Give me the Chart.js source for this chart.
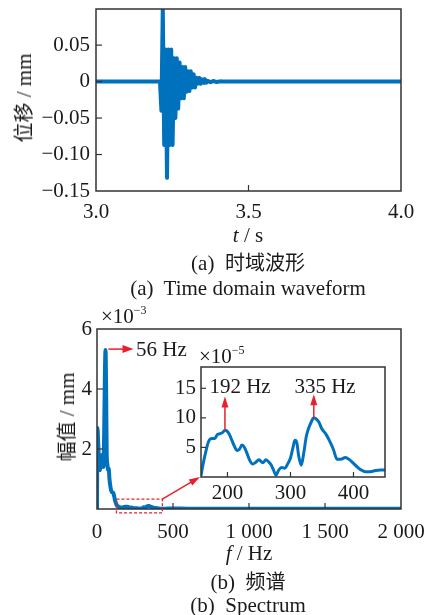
<!DOCTYPE html>
<html><head><meta charset="utf-8">
<script src="https://cdn.jsdelivr.net/npm/chart.js@4.4.0/dist/chart.umd.min.js"></script>
<style>
html,body{margin:0;padding:0;background:#fff;}
#wrap{position:relative;width:438px;height:615px;overflow:hidden;font-family:"Liberation Serif","Times New Roman",serif;color:#1a1a1a;}
canvas{position:absolute;left:0;}
.t{position:absolute;white-space:pre;font-size:21px;line-height:1;transform:translate(-50%,-50%);}
.l{transform:translate(0,-50%);}
.cn{font-family:"Noto Sans CJK SC",sans-serif;font-size:20px;}
.rot{transform:translate(-50%,-50%) rotate(-90deg);}
.sup{font-size:12px;position:relative;top:-9px;}
</style></head>
<body><div id="wrap">
<canvas id="cA" width="438" height="240" style="top:0"></canvas>
<canvas id="cB" width="438" height="260" style="top:300px"></canvas>
<canvas id="cC" width="438" height="260" style="top:300px"></canvas>

<div class="t rot" style="left:24px;top:98px"><span class="cn">位移</span> / mm</div>
<div class="t" style="left:248px;top:235px"><i>t</i> / s</div>
<div class="t" style="left:248px;top:263px">(a)  <span class="cn">时域波形</span></div>
<div class="t" style="left:248px;top:288px">(a)  Time domain waveform</div>

<div class="t l" style="left:101px;top:316px">×10<span class="sup">−3</span></div>
<div class="t rot" style="left:67px;top:417px"><span class="cn">幅值</span> / mm</div>
<div class="t l" style="left:136px;top:349px">56 Hz</div>
<div class="t l" style="left:199px;top:356px">×10<span class="sup">−5</span></div>
<div class="t" style="left:240px;top:386px">192 Hz</div>
<div class="t" style="left:325px;top:386px">335 Hz</div>
<div class="t" style="left:249px;top:553px"><i>f</i> / Hz</div>
<div class="t" style="left:248px;top:582px">(b)  <span class="cn">频谱</span></div>
<div class="t" style="left:248px;top:605px">(b)  Spectrum</div>
</div>
<script>
// ---------- (a) time-domain waveform (displacement, mm) ----------
const timeA = [3.0000, 3.2098, 3.2144, 3.2190, 3.2236, 3.2282, 3.2328, 3.2374, 3.2420, 3.2466, 3.2511,
  3.2557, 3.2603, 3.2649, 3.2695, 3.2741, 3.2787, 3.2833, 3.2879, 3.2925, 3.2970, 3.3016, 3.3062, 3.3108,
  3.3154, 3.3200, 3.3246, 3.3292, 3.3338, 3.3384, 3.3430, 3.3475, 3.3521, 3.3567, 3.3613, 3.3659, 3.3751,
  3.3843, 3.3934, 3.4066, 3.4230, 4.0000];
const dispA = [0, 0, -0.040, 0.102, -0.087, 0.044, -0.132, 0.044, -0.087, 0.044, -0.087,
  0.032, -0.050, 0.032, -0.037, 0.026, -0.023, 0.020, -0.023, 0.020, -0.014, 0.014, -0.013, 0.014,
  -0.008, 0.010, -0.008, 0.0053, -0.003, 0.0053, -0.003, 0.0033, -0.002, 0.0033, -0.0015, 0.001, -0.001,
  0.0008, -0.0005, 0.0003, 0, 0];
const xTicksA = [3.0, 3.5, 4.0];
const xLabelsA = ['3.0', '3.5', '4.0'];
const yTicksA = [-0.15, -0.10, -0.05, 0, 0.05];
const yLabelsA = ['−0.15', '−0.10', '−0.05', '0', '0.05'];

// ---------- (b) spectrum (amplitude in 1e-3 mm) ----------
const specLowF = [0, 3, 8, 14, 19, 25, 31, 37, 42, 47, 52, 56, 60, 64, 68, 72, 77, 82, 88, 94, 100, 106, 112, 118, 124, 130, 136, 142, 150];
const specLowA = [0, 2.7, 2.2, 1.5, 1.3, 1.6, 1.8, 1.5, 1.4, 2.5, 4.5, 5.3, 4.0, 1.8, 1.5, 1.3, 1.35, 1.0, 0.75, 0.6, 0.55, 0.55, 0.45, 0.3, 0.2, 0.13, 0.1, 0.08, 0.06];
// zoomed part (amplitude in 1e-5 mm)
const insetF = [158, 161, 165, 170, 175, 180, 184, 188, 192, 196, 199, 203, 207, 211, 215, 219, 223, 227, 231, 235,
  240, 245, 250, 256, 261, 265, 269, 273, 277, 281, 286, 291, 296, 300, 304, 307, 310, 313, 317, 321, 325, 329,
  333, 337, 341, 345, 350, 356, 362, 368, 374, 380, 387, 394, 400, 406, 412, 419, 427, 435, 443, 450];
const insetA = [0.2, 2.0, 4.0, 6.0, 6.5, 6.5, 7.2, 7.3, 7.5, 7.9, 7.8, 7.2, 6.2, 5.2, 4.5, 4.7, 5.4, 5.0, 4.0, 2.9,
  2.2, 2.5, 2.9, 2.4, 2.9, 2.6, 2.1, 1.2, 0.3, 1.1, 1.6, 1.5, 2.3, 3.2, 5.0, 6.2, 5.8, 3.6, 2.0, 4.0, 6.8, 8.3,
  9.3, 10.0, 9.8, 9.3, 8.1, 7.3, 6.1, 4.7, 3.0, 3.0, 3.3, 2.9, 2.3, 1.7, 1.2, 0.9, 0.9, 1.1, 1.2, 1.2];
const specTailF = [480, 600, 800, 1000, 1200, 1400, 1600, 1800, 2000];
const specTailA = [0.015, 0.012, 0.01, 0.01, 0.008, 0.008, 0.007, 0.007, 0.006];
const xTicksB = [0, 500, 1000, 1500, 2000];
const xLabelsB = ['0', '500', '1 000', '1 500', '2 000'];
const yTicksB = [0, 2, 4, 6];
const yLabelsB = ['', '2', '4', '6'];
const xTicksC = [200, 300, 400];
const xLabelsC = ['200', '300', '400'];
const yTicksC = [5, 10, 15];
const yLabelsC = ['5', '10', '15'];
// annotations (data units)
const arrow56 = {f0: 75, f1: 240, a: 5.33};
const zoomBox = {f0: 128, f1: 430, a0: -0.13, a1: 0.33};
const insetArrows = [{f: 196, a0: 7.9, a1: 13.6}, {f: 337, a0: 10.0, a1: 14.0}];

const BLUE = '#0072BD', RED = '#e8202a', AX = '#333';
Chart.defaults.font.family = "'Liberation Serif','Times New Roman',serif";
Chart.defaults.font.size = 21;
Chart.defaults.color = '#1a1a1a';

const pts = (xs, ys, k) => xs.map((x, i) => ({x: x, y: ys[i] * (k || 1)}));
const fixedTicks = vals => scale => { scale.ticks = vals.map(v => ({value: v})); };
const labelFrom = (vals, labs) => v => { const i = vals.findIndex(t => Math.abs(t - v) < 1e-9); return i >= 0 ? labs[i] : ''; };

function frame(chart, len) {
  const {ctx, chartArea: a, scales: {x, y}} = chart;
  ctx.save();
  ctx.strokeStyle = AX; ctx.lineWidth = 1.2;
  x.ticks.forEach(t => { const p = x.getPixelForValue(t.value);
    if (p <= a.left + 1 || p >= a.right - 1) return;
    ctx.beginPath(); ctx.moveTo(p, a.bottom); ctx.lineTo(p, a.bottom - len); ctx.stroke(); });
  y.ticks.forEach(t => { const p = y.getPixelForValue(t.value);
    if (p <= a.top + 1 || p >= a.bottom - 1) return;
    ctx.beginPath(); ctx.moveTo(a.left, p); ctx.lineTo(a.left + len, p); ctx.stroke(); });
  ctx.lineWidth = 1.5;
  ctx.strokeRect(a.left, a.top, a.right - a.left, a.bottom - a.top);
  ctx.restore();
}
function arrow(ctx, x1, y1, x2, y2, hl, hw) {
  const ang = Math.atan2(y2 - y1, x2 - x1);
  ctx.save();
  ctx.strokeStyle = RED; ctx.fillStyle = RED; ctx.lineWidth = 1.5;
  ctx.beginPath(); ctx.moveTo(x1, y1);
  ctx.lineTo(x2 - Math.cos(ang) * hl * 0.8, y2 - Math.sin(ang) * hl * 0.8); ctx.stroke();
  ctx.translate(x2, y2); ctx.rotate(ang);
  ctx.beginPath(); ctx.moveTo(0, 0); ctx.lineTo(-hl, -hw / 2); ctx.lineTo(-hl, hw / 2); ctx.closePath(); ctx.fill();
  ctx.restore();
}
function axes(xmin, xmax, xt, xl, ymin, ymax, yt, yl, yw, xh, xpad, ypad) {
  return {
    x: {type: 'linear', min: xmin, max: xmax, afterBuildTicks: fixedTicks(xt),
      afterFit: s => { s.height = xh; s.paddingLeft = 0; s.paddingRight = 0; },
      grid: {display: false, drawTicks: false}, border: {display: false},
      ticks: {padding: xpad, maxRotation: 0, autoSkip: false, callback: labelFrom(xt, xl)}},
    y: {type: 'linear', min: ymin, max: ymax, afterBuildTicks: fixedTicks(yt),
      afterFit: s => { s.width = yw; s.paddingTop = 0; s.paddingBottom = 0; },
      grid: {display: false, drawTicks: false}, border: {display: false},
      ticks: {padding: ypad, autoSkip: false, callback: labelFrom(yt, yl)}}
  };
}
const common = {responsive: false, animation: false, devicePixelRatio: 1, events: [],
  plugins: {legend: {display: false}, tooltip: {enabled: false}}};

// (a)
new Chart(document.getElementById('cA'), {
  type: 'line',
  data: {datasets: [{data: pts(timeA, dispA), borderColor: BLUE, borderWidth: 4, pointRadius: 0,
    tension: 0.001, borderJoinStyle: 'round', borderCapStyle: 'round'}]},
  options: Object.assign({}, common, {
    layout: {padding: {top: 9, right: 37, bottom: 19, left: 0}},
    scales: axes(3, 4, xTicksA, xLabelsA, -0.15, 0.0995, yTicksA, yLabelsA, 96, 30, 9, 6)
  }),
  plugins: [{id: 'fa', afterDatasetsDraw: c => frame(c, 6)}]
});

// (b) main spectrum
const mainData = pts(specLowF, specLowA).concat(pts(insetF, insetA, 0.01), pts(specTailF, specTailA));
const chartB = new Chart(document.getElementById('cB'), {
  type: 'line',
  data: {datasets: [{data: mainData, borderColor: BLUE, borderWidth: 4, pointRadius: 0, cubicInterpolationMode: 'monotone'}]},
  options: Object.assign({}, common, {
    layout: {padding: {top: 29, right: 37, bottom: 21, left: 0}},
    scales: axes(0, 2000, xTicksB, xLabelsB, 0, 6, yTicksB, yLabelsB, 97, 30, 11, 5)
  }),
  plugins: [{id: 'fb', afterDatasetsDraw: c => {
    frame(c, 6);
    const {ctx, scales: {x, y}} = c;
    arrow(ctx, x.getPixelForValue(arrow56.f0), y.getPixelForValue(arrow56.a), x.getPixelForValue(arrow56.f1), y.getPixelForValue(arrow56.a), 11, 8);
    ctx.save(); ctx.strokeStyle = RED; ctx.lineWidth = 1.3; ctx.setLineDash([3, 2]);
    const x0 = x.getPixelForValue(zoomBox.f0), x1 = x.getPixelForValue(zoomBox.f1);
    const y0 = y.getPixelForValue(zoomBox.a1), y1 = y.getPixelForValue(zoomBox.a0);
    ctx.strokeRect(x0, y0, x1 - x0, y1 - y0); ctx.restore();
  }}]
});

// (b) inset
new Chart(document.getElementById('cC'), {
  type: 'line',
  data: {datasets: [{data: pts(insetF, insetA), borderColor: BLUE, borderWidth: 3, pointRadius: 0, cubicInterpolationMode: 'monotone'}]},
  options: Object.assign({}, common, {
    layout: {padding: {top: 67, right: 53, bottom: 57, left: 0}},
    scales: axes(158, 450, xTicksC, xLabelsC, 0, 18.6, yTicksC, yLabelsC, 201, 26, 4, 5)
  }),
  plugins: [{id: 'fc',
    beforeDatasetsDraw: c => { const a = c.chartArea; c.ctx.save(); c.ctx.fillStyle = '#fff';
      c.ctx.fillRect(a.left, a.top, a.right - a.left, a.bottom - a.top); c.ctx.restore(); },
    afterDatasetsDraw: c => {
      frame(c, 5);
      const {ctx, chartArea: a, scales: {x, y}} = c;
      insetArrows.forEach(r => arrow(ctx, x.getPixelForValue(r.f), y.getPixelForValue(r.a0), x.getPixelForValue(r.f), y.getPixelForValue(r.a1), 11, 7));
      const bx = chartB.scales.x, by = chartB.scales.y;
      arrow(ctx, bx.getPixelForValue(zoomBox.f1), by.getPixelForValue(zoomBox.a1), a.left - 1, a.bottom, 11, 7);
    }}]
});
</script>
</body></html>
